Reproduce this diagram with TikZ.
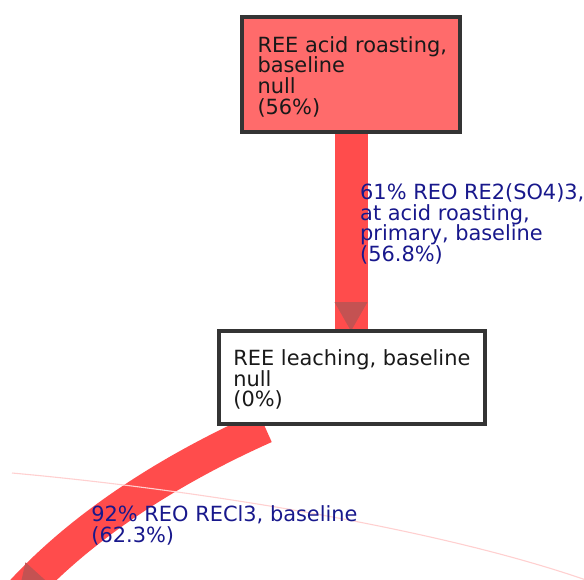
\documentclass[tikz,border=0pt]{standalone}
\usepackage{fontspec}
\setmainfont{DejaVu Sans}
\usetikzlibrary{backgrounds,calc}
\definecolor{edgegray}{RGB}{52,52,52}
\definecolor{roastfill}{RGB}{255,107,107}
\definecolor{flowred}{RGB}{255,76,76}
\definecolor{tipred}{RGB}{196,82,82}
\definecolor{labelblue}{RGB}{24,24,140}
\definecolor{boxtext}{RGB}{25,25,25}
\definecolor{faintflow}{RGB}{255,208,208}
\newcommand\diagfont{\fontsize{20.9}{20.6}\selectfont}
\begin{document}
\begin{tikzpicture}[x=1pt,y=-1pt,
  procbox/.style={draw=edgegray, line width=4pt, inner sep=0pt, outer sep=0pt, anchor=north west},
  flowband/.style={draw=flowred, line width=33pt},
  flowtip/.style={fill=tipred, draw=none},
  % multi-line texts are placed by the baseline of their last line
  nodetext/.style={anchor=base west, align=left, inner sep=0pt, font=\diagfont, text=boxtext},
  flowlabel/.style={nodetext, text=labelblue}]
\useasboundingbox (0,0) rectangle (584,579);
\clip (0,0) rectangle (584,579);

% process boxes
\node[procbox, fill=roastfill, minimum width=218pt, minimum height=115pt] (roast) at (242,16.5) {};
\node[procbox, fill=white, minimum width=266.5pt, minimum height=93pt] (leach) at (218.5,331) {};

% box texts
\node[nodetext] (roasttext) at (257.3,114.1) {REE acid roasting,\\baseline\\null\\(56\%)};
\node[nodetext] (leachtext) at (233.2,406.9) {REE leaching, baseline\\null\\(0\%)};

% end points of the flows leaving the picture
\coordinate (leachout) at (265,427);
\coordinate (sinkin) at (18,596);
\coordinate (faintstart) at (12,473);
\coordinate (faintend) at (600,585);

% flows, beneath the boxes
\begin{pgfonlayer}{background}
  \clip (0,0) rectangle (584,579);
  \draw[flowband] (roast.south) -- (roast.south |- leach.north) coordinate (roastin);
  \fill[flowtip] ($(roastin)+(-16.5,-29)$) -- ($(roastin)+(16.5,-29)$) -- (roastin) -- cycle;
  \draw[flowband] (leachout) .. controls (175.4,466.9) and (83.6,523.2) .. (sinkin);
  \fill[flowtip] (50.7,585.1) -- (25.5,562.3) -- (sinkin) -- cycle;
\end{pgfonlayer}

% faint flow crossing the lower band
\draw[draw=faintflow, line width=1.1pt] (faintstart) .. controls (200,490) and (450,530) .. (faintend);

% flow labels
\node[flowlabel] (acidlabel) at (360,261.3) {61\% REO RE2(SO4)3,\\at acid roasting,\\primary, baseline\\(56.8\%)};
\node[flowlabel] (chloridelabel) at (91.2,542.1) {92\% REO RECl3, baseline\\(62.3\%)};
\end{tikzpicture}
\end{document}
